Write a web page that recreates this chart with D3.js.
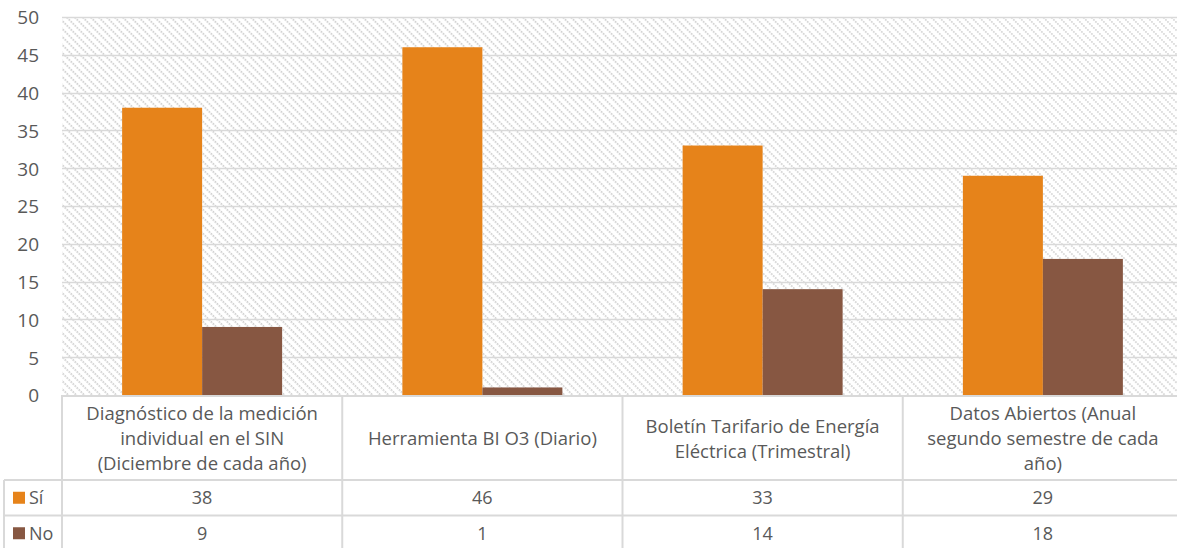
<!DOCTYPE html>
<html>
<head>
<meta charset="utf-8">
<script src="https://cdn.jsdelivr.net/npm/d3@7"></script>
<style>
  html, body { margin: 0; padding: 0; background: #fff; }
  svg { display: block; }
  text { font-family: "Open Sans", "Noto Sans", sans-serif; fill: #595959; }
</style>
</head>
<body>
<svg id="chart" width="1177" height="548"></svg>
<script>
const categories = [
  ["Diagnóstico de la medición", "individual en el SIN", "(Diciembre de cada año)"],
  ["Herramienta BI O3 (Diario)"],
  ["Boletín Tarifario de Energía", "Eléctrica (Trimestral)"],
  ["Datos Abiertos (Anual", "segundo semestre de cada", "año)"]
];
const seriesNames = ["Sí", "No"];
const siValues = [38, 46, 33, 29];
const noValues = [9, 1, 14, 18];
const yTicks = [0, 5, 10, 15, 20, 25, 30, 35, 40, 45, 50];
const colors = ["#E6831A", "#875742"];

const series = [siValues, noValues];
const catIdx = categories.map((c, i) => i);

const svg = d3.select("#chart");
const pLeft = 62, pRight = 1183, pTop = 17, pBottom = 395;
const headerBottom = 480, rowH = 35.5;

const x0 = d3.scaleBand().domain(catIdx).range([pLeft, pRight]);
const bw = x0.bandwidth();
const x1 = d3.scaleBand().domain([0, 1]).range([(bw - 160) / 2, (bw + 160) / 2]);
const y = d3.scaleLinear().domain([0, 50]).range([pBottom, pTop]);

// hatch pattern
const defs = svg.append("defs");
const pat = defs.append("pattern")
  .attr("id", "hatch").attr("patternUnits", "userSpaceOnUse")
  .attr("width", 5.66).attr("height", 5.66)
  .attr("patternTransform", "rotate(-45)");
pat.append("line").attr("x1", 1).attr("y1", 0).attr("x2", 1).attr("y2", 5.66)
  .attr("stroke", "#cdcdcd").attr("stroke-width", 1.6).attr("stroke-dasharray", "1.6,1.2");

svg.append("rect").attr("x", pLeft).attr("y", pTop)
  .attr("width", pRight - pLeft).attr("height", pBottom - pTop)
  .attr("fill", "url(#hatch)");

// gridlines
svg.append("g").selectAll("line").data(yTicks.filter(d => d > 0)).join("line")
  .attr("x1", pLeft).attr("x2", pRight)
  .attr("y1", d => Math.round(y(d)) + 0.5).attr("y2", d => Math.round(y(d)) + 0.5)
  .attr("stroke", "#d9d9d9").attr("stroke-width", 1.3);

// y axis labels
const yAxis = d3.axisLeft(y).tickValues(yTicks).tickSize(0).tickPadding(0);
const gy = svg.append("g").attr("transform", `translate(39,0)`).call(yAxis);
gy.select(".domain").remove();
gy.selectAll("text").style("font-size", "19px").attr("fill", "#595959")
  .style("font-family", "'Open Sans', sans-serif").attr("dy", "0.36em");

// bars
const gBars = svg.append("g");
series.forEach((vals, s) => {
  gBars.selectAll(null).data(vals).join("rect")
    .attr("x", (d, i) => x0(i) + x1(s))
    .attr("width", x1.bandwidth())
    .attr("y", d => y(d))
    .attr("height", d => y(0) - y(d))
    .attr("fill", colors[s]);
});

// table lines
const lineColor = "#d9d9d9";
const tl = svg.append("g").attr("stroke", lineColor).attr("stroke-width", 2);
tl.append("line").attr("x1", pLeft).attr("x2", pRight).attr("y1", pBottom + 1).attr("y2", pBottom + 1);
[headerBottom, headerBottom + rowH].forEach(yy => {
  tl.append("line").attr("x1", 4).attr("x2", pRight).attr("y1", yy).attr("y2", yy);
});
tl.append("line").attr("x1", 4).attr("x2", 4).attr("y1", headerBottom).attr("y2", 548);
catIdx.forEach(i => {
  tl.append("line").attr("x1", x0(i)).attr("x2", x0(i)).attr("y1", pBottom).attr("y2", 548);
});

// category labels
const lineH = 25;
categories.forEach((lines, i) => {
  const cx = x0(i) + bw / 2;
  const midY = (pBottom + headerBottom) / 2 + 1;
  const startY = midY - (lines.length - 1) * lineH / 2;
  const t = svg.append("text").attr("text-anchor", "middle").style("font-size", "18.5px");
  lines.forEach((ln, k) => {
    t.append("tspan").attr("x", cx).attr("y", startY + k * lineH).attr("dy", "0.36em").text(ln);
  });
});

// data rows
series.forEach((vals, s) => {
  const cy = headerBottom + rowH * s + rowH / 2;
  svg.append("rect").attr("x", 13).attr("y", cy - 6).attr("width", 12).attr("height", 12).attr("fill", colors[s]);
  svg.append("text").attr("x", 29).attr("y", cy).attr("dy", "0.36em").style("font-size", "18px").text(seriesNames[s]);
  svg.append("g").selectAll("text").data(vals).join("text")
    .attr("x", (d, i) => x0(i) + bw / 2).attr("y", cy).attr("dy", "0.36em")
    .attr("text-anchor", "middle").style("font-size", "18px").text(d => d);
});
</script>
</body>
</html>
